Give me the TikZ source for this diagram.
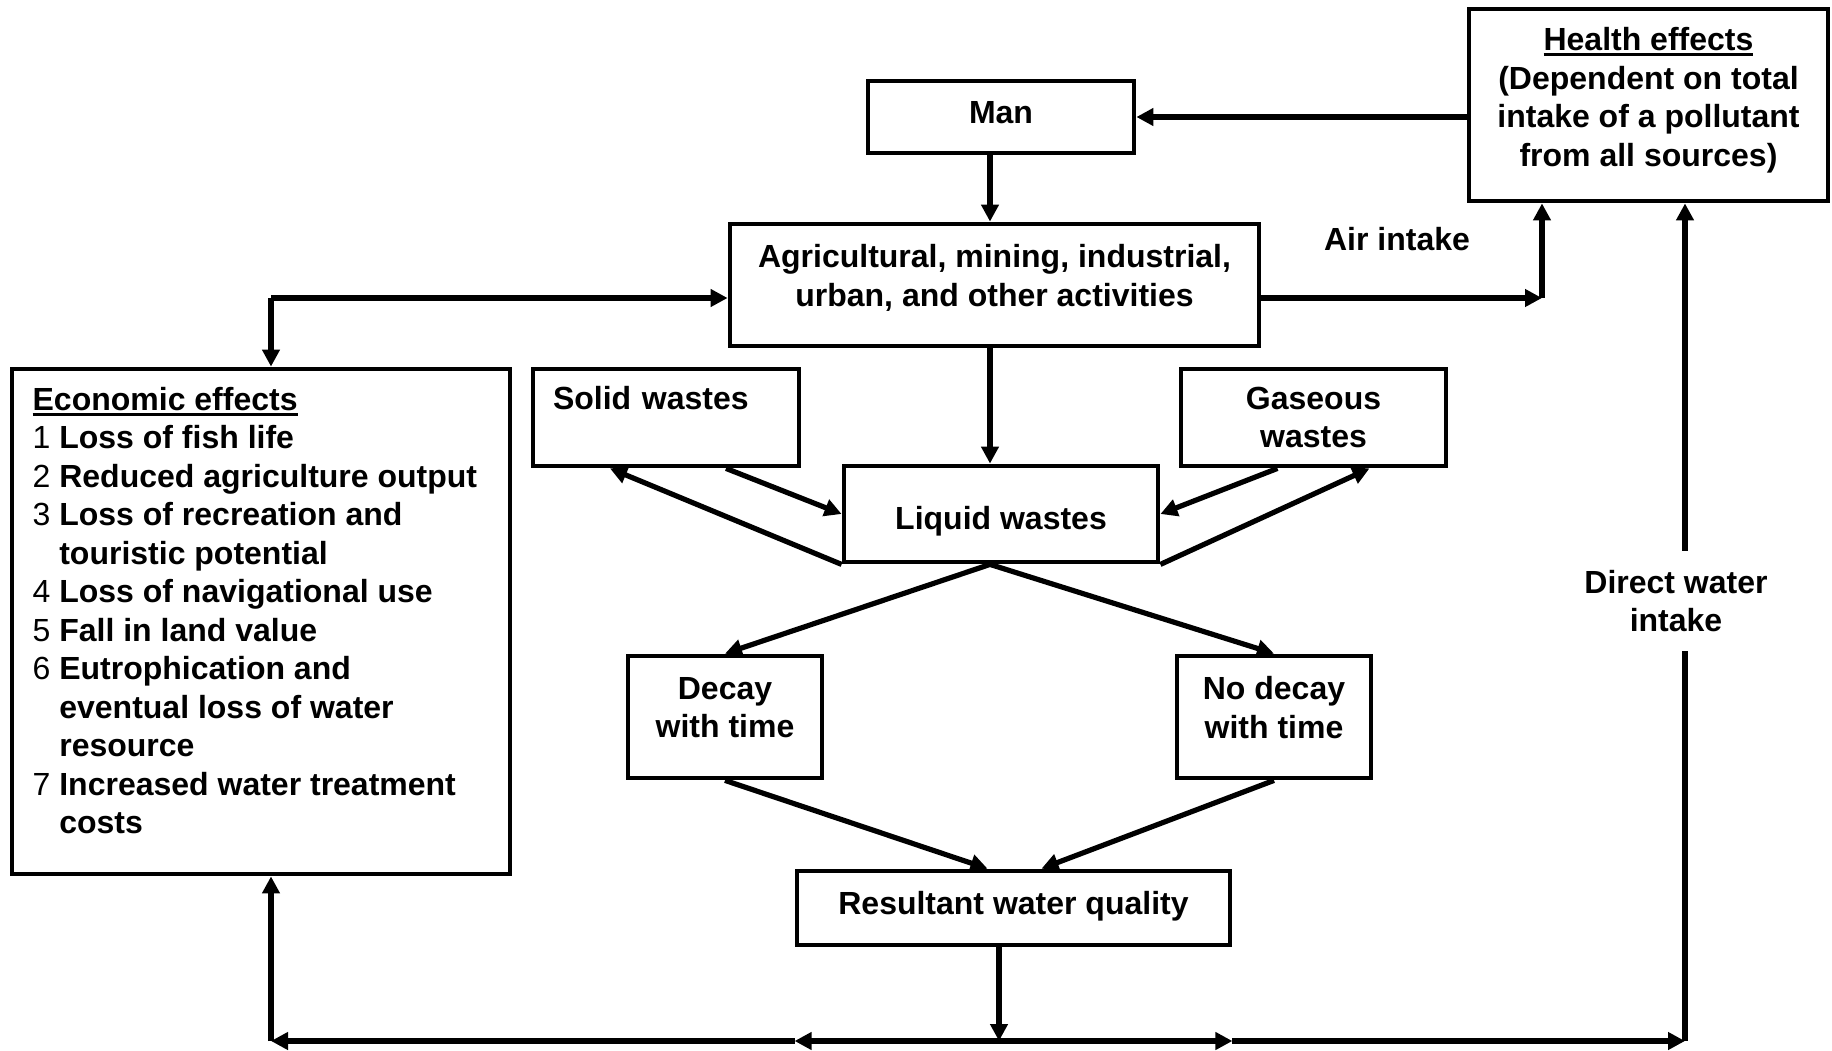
\documentclass[tikz,border=0pt]{standalone}
\usepackage{fontspec}
\setmainfont{Liberation Sans}
\usepackage{array}
\usetikzlibrary{arrows.meta}
\newcommand{\heading}[1]{\leavevmode\setbox0=\hbox{#1}\rlap{\rule[-2.6pt]{\wd0}{1.3pt}}\box0}

\begin{document}
\begin{tikzpicture}[x=0.5pt,y=-0.5pt,
  every node/.style={font=\fontsize{16}{19.25}\selectfont\bfseries},
  box/.style={draw,line width=2.4pt,inner sep=0pt,align=center},
  arr/.style={line width=2.6pt,-{Triangle[length=8.5pt,width=8.5pt]}},
  link/.style={line width=2.6pt}]
\useasboundingbox (0,0) rectangle (1832,1050);

% boxes
\node[box,minimum width=133pt,minimum height=36pt,text depth=4.6pt] (man) at (1001,117) {Man};
\node[box,minimum width=179.5pt,minimum height=96pt,text depth=8pt] (health) at (1648.5,105)
  {\heading{Health effects}\\(Dependent on total\\intake of a pollutant\\from all sources)};
\node[box,minimum width=264.5pt,minimum height=61pt,text depth=9.4pt] (act) at (994.5,285)
  {Agricultural, mining, industrial,\\urban, and other activities};
\node[box,minimum width=249pt,minimum height=252.5pt] (econ) at (261,621.5) {%
  \begin{tabular}{@{}>{\mdseries}l@{\ }p{215pt}@{}}
  \multicolumn{2}{@{}l@{}}{\heading{Economic effects}}\\
  1 & Loss of fish life\\
  2 & Reduced agriculture output\\
  3 & Loss of recreation and\\
    & touristic potential\\
  4 & Loss of navigational use\\
  5 & Fall in land value\\
  6 & Eutrophication and\\
    & eventual loss of water\\
    & resource\\
  7 & Increased water treatment\\
    & costs\\[7pt]
  \end{tabular}};
\node[box,align=left,text width=113pt,minimum width=133pt,minimum height=48.5pt] (solid) at (666,417.5)
  {Solid wastes\\\phantom{w}};
\node[box,minimum width=132.5pt,minimum height=48.5pt] (gas) at (1313.5,417.5) {Gaseous\\wastes};
\node[box,minimum width=157pt,minimum height=48pt,text height=18.7pt] (liquid) at (1001,514) {Liquid wastes};
\node[box,minimum width=97pt,minimum height=61pt,text depth=9.4pt] (decay) at (725,717) {Decay\\with time};
\node[box,minimum width=97pt,minimum height=61pt,text depth=9.4pt] (nodecay) at (1274,717) {No decay\\with time};
\node[box,minimum width=216.5pt,minimum height=37pt,text depth=5.4pt] (result) at (1013.5,908) {Resultant water quality};

% labels
\node (air) at (1397,239) {Air intake};
\node[align=center,inner ysep=9.5pt] (dwi) at (1676,601) {Direct water\\intake};

% corner points
\coordinate (mx) at (990,150);
\coordinate (al) at (271,298);
\coordinate (ar) at (1542,298);
\coordinate (bl) at (271,1041);
\coordinate (bm) at (999,1041);
\coordinate (br) at (1685,1041);

% connectors
\draw[arr] (health.west |- man) -- (man.east);
\draw[arr] (man.south -| mx) -- (act.north -| mx);
\draw[arr] (act.south -| mx) -- (liquid.north -| mx);
\draw[arr] (al) -- (act.west |- al);
\draw[arr] (al) -- (econ.north -| al);
\draw[arr] (act.east |- ar) -- (ar);
\draw[arr] (ar) -- (health.south -| ar);

\draw[arr] ([xshift=30pt]solid.south) -- (liquid.west);
\draw[arr] (liquid.south west) -- ([xshift=-28pt]solid.south);
\draw[arr] ([xshift=-18pt]gas.south) -- (liquid.east);
\draw[arr] (liquid.south east) -- ([xshift=28pt]gas.south);

\draw[arr] (liquid.south -| mx) -- (decay.north);
\draw[arr] (liquid.south -| mx) -- (nodecay.north);
\draw[arr] (decay.south) -- ([xshift=-13pt]result.north);
\draw[arr] (nodecay.south) -- ([xshift=14pt]result.north);

\draw[arr] (result.south -| bm) -- (bm);
\draw[arr] (bm) -- (result.west |- bm);
\draw[arr] (result.west |- bm) -- (bl);
\draw[arr] (bm) -- (result.east |- bm);
\draw[arr] (result.east |- bm) -- (br);
\draw[arr] (bl) -- (econ.south -| bl);
\draw[link] (br) -- (br |- dwi.south);
\draw[arr] (br |- dwi.north) -- (health.south -| br);
\end{tikzpicture}
\end{document}
